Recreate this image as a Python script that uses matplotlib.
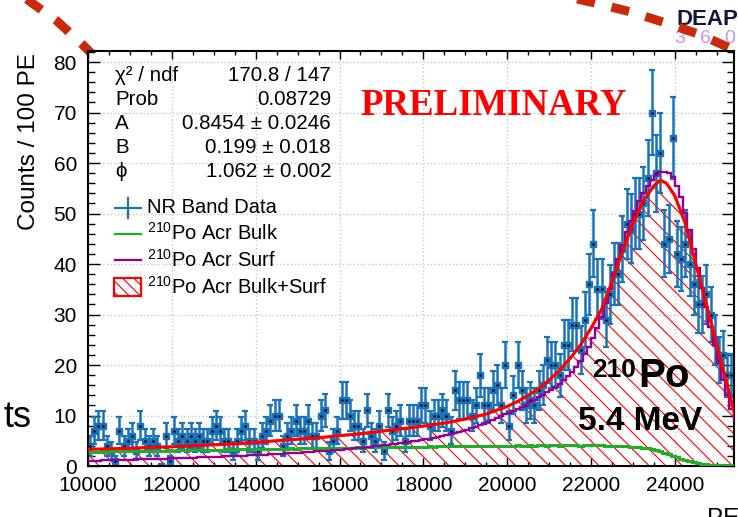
import numpy as np
import matplotlib
matplotlib.use('Agg')
import matplotlib.pyplot as plt
from matplotlib.lines import Line2D
from matplotlib.patches import Rectangle

plt.rcParams['font.family'] = ['Liberation Sans', 'DejaVu Sans']
plt.rcParams['mathtext.fontset'] = 'custom'
plt.rcParams['mathtext.rm'] = 'Liberation Sans'
plt.rcParams['mathtext.it'] = 'Liberation Sans:italic'
plt.rcParams['mathtext.bf'] = 'Liberation Sans:bold'
plt.rcParams['hatch.linewidth'] = 0.8

# Histograma de datos NR (bins de 100 PE desde 10000)
bin_lo = 10000
bin_w = 100
counts = [4, 7, 8, 8, 4, 3, 1, 7, 4, 5,
          6, 3, 8, 5, 4, 5, 4, 0, 6, 1,
          7, 5, 6, 5, 6, 5, 6, 5, 5, 7,
          8, 7, 5, 5, 3, 5, 7, 8, 5, 5,
          3, 6, 7, 9, 10, 10, 4, 6, 7, 9,
          7, 7, 9, 6, 6, 10, 11, 3, 5, 7,
          13, 13, 10, 8, 8, 5, 11, 6, 5, 8,
          3, 11, 7, 8, 9, 5, 9, 9, 9, 12,
          12, 8, 10, 10, 11, 10, 7, 15, 13, 13,
          13, 10, 12, 18, 12, 12, 15, 16, 12, 20,
          8, 14, 20, 15, 12, 13, 12, 15, 16, 21,
          20, 20, 18, 24, 24, 28, 28, 23, 29, 36,
          44, 35, 35, 29, 34, 38, 38, 43, 48, 47,
          50, 50, 52, 57, 70, 58, 62, 44, 45, 65,
          42, 41, 44, 40, 36, 32, 32, 34, 30, 25,
          21, 22, 18, 18, 15]

# Plantillas 210Po (mismos bins)
bulk = [2.8, 2.8, 2.8, 2.9, 2.8, 2.9, 2.9, 2.9, 2.9, 2.9,
        2.9, 3.0, 2.9, 3.0, 3.0, 3.0, 3.0, 3.0, 3.0, 3.1,
        3.0, 3.1, 3.1, 3.1, 3.1, 3.1, 3.2, 3.1, 3.2, 3.2,
        3.2, 3.2, 3.2, 3.3, 3.2, 3.3, 3.3, 3.3, 3.3, 3.3,
        3.3, 3.4, 3.3, 3.4, 3.4, 3.4, 3.4, 3.4, 3.5, 3.4,
        3.5, 3.5, 3.5, 3.5, 3.5, 3.5, 3.6, 3.5, 3.6, 3.6,
        3.6, 3.6, 3.6, 3.6, 3.7, 3.6, 3.7, 3.7, 3.7, 3.7,
        3.7, 3.7, 3.8, 3.7, 3.8, 3.8, 3.8, 3.8, 3.8, 3.8,
        3.8, 3.9, 3.8, 3.9, 3.9, 3.9, 3.9, 3.9, 3.9, 3.9,
        3.9, 4.0, 3.9, 4.0, 4.0, 4.0, 4.0, 4.0, 3.9, 4.0,
        4.0, 4.0, 4.1, 4.0, 4.0, 4.1, 4.0, 4.1, 4.1, 4.0,
        4.1, 4.1, 4.0, 4.1, 4.1, 4.1, 4.1, 4.0, 4.1, 4.1,
        4.1, 4.1, 4.1, 4.0, 4.0, 4.0, 4.0, 3.9, 3.9, 3.8,
        3.8, 3.7, 3.6, 3.5, 3.3, 3.1, 2.9, 2.6, 2.3, 2.0,
        1.7, 1.4, 1.2, 1.0, 0.8, 0.6, 0.4, 0.3, 0.2, 0.2,
        0.1, 0.1, 0.1, 0.1, 0.1]

surf = [1.0, 1.0, 1.0, 1.1, 1.1, 1.1, 1.1, 1.2, 1.2, 1.2,
        1.2, 1.3, 1.3, 1.3, 1.3, 1.4, 1.4, 1.4, 1.4, 1.5,
        1.5, 1.5, 1.5, 1.6, 1.6, 1.6, 1.7, 1.7, 1.7, 1.8,
        1.8, 1.8, 1.9, 1.9, 1.9, 2.0, 2.0, 2.0, 2.1, 2.1,
        2.1, 2.2, 2.2, 2.3, 2.3, 2.4, 2.4, 2.5, 2.5, 2.6,
        2.6, 2.7, 2.7, 2.8, 2.9, 2.9, 3.0, 3.0, 3.1, 3.2,
        3.2, 3.3, 3.4, 3.5, 3.6, 3.6, 3.7, 3.8, 3.9, 4.0,
        4.1, 4.2, 4.3, 4.4, 4.5, 4.6, 4.7, 4.9, 5.0, 5.1,
        5.3, 5.4, 5.6, 5.8, 6.0, 6.1, 6.3, 6.5, 6.8, 7.0,
        7.2, 7.5, 7.8, 8.1, 8.4, 8.8, 9.1, 9.5, 9.9, 10.3,
        10.5, 10.9, 11.3, 11.7, 12.1, 12.6, 13.1, 13.6, 14.1, 14.6,
        15.1, 15.7, 16.3, 17.0, 17.8, 18.7, 19.7, 20.8, 22.1, 23.6,
        25.3, 27.3, 29.6, 32.2, 35.0, 38.0, 41.0, 43.8, 46.3, 48.6,
        50.6, 52.4, 54.0, 55.4, 56.6, 57.6, 58.2, 58.3, 58.0, 57.2,
        55.5, 53.2, 50.2, 46.8, 43.0, 39.2, 35.2, 31.4, 27.6, 24.0,
        20.4, 17.0, 14.0, 11.2, 9.0]

# Función de ajuste (Bulk+Surf)
fit_pe = [10000, 10500, 11000, 11500, 12000, 12500, 13000, 13500, 14000, 14500,
          15000, 15500, 16000, 16500, 17000, 17500, 18000, 18500, 19000, 19500,
          20000, 20250, 20500, 20750, 21000, 21250, 21500, 21750, 22000, 22250,
          22500, 22750, 23000, 23250, 23500, 23650, 23800, 24000, 24250, 24500,
          24750, 25000, 25250, 25450]
fit_val = [3.3, 3.4, 3.5, 3.7, 3.8, 4.0, 4.2, 4.4, 4.7, 5.0,
           5.3, 5.6, 6.0, 6.4, 6.9, 7.4, 7.9, 8.5, 9.3, 10.3,
           11.8, 12.8, 14.0, 15.3, 17.0, 19.0, 21.3, 24.0, 27.3, 31.0,
           36.5, 42.5, 48.0, 52.5, 55.5, 56.6, 56.0, 53.5, 48.0, 40.0,
           32.0, 24.0, 16.0, 9.5]

# Resultados del ajuste
chi2, ndf, prob = 170.8, 147, 0.08729
par_names = ['A', 'B', 'ϕ']
par_vals = ['0.8454', '0.199', '1.062']
par_errs = ['0.0246', '0.018', '0.002']

blue = '#1a72b8'
green = '#1fae2a'
purple = '#930093'

W, H = 738, 517
fig = plt.figure(figsize=(W / 100, H / 100), dpi=100)
ax = fig.add_axes([88 / W, (H - 466) / H, 646 / W, 415 / H])


def fx(x):
    return x / W


def fy(y):
    return 1 - y / H


edges = bin_lo + bin_w * np.arange(len(counts) + 1)
centers = edges[:-1] + bin_w / 2
counts = np.array(counts, dtype=float)

ax.fill_between(fit_pe, 0, fit_val, facecolor='none', edgecolor='red',
                hatch='\\\\', linewidth=0, zorder=1)
ax.errorbar(centers, counts, yerr=np.sqrt(counts), fmt='s', ms=4.0,
            mfc=blue, mec=blue, ecolor=blue, elinewidth=1.8,
            capsize=2.3, capthick=1.6, zorder=2)
ax.plot(centers, counts, ls='none', marker='.', ms=1.6, color='k', zorder=2.1)
ax.stairs(bulk, edges, baseline=None, color=green, lw=2.2, zorder=3)
ax.stairs(surf, edges, baseline=None, color=purple, lw=1.7, zorder=3)
ax.plot(fit_pe, fit_val, color='red', lw=2.3, zorder=4)

ax.set_xlim(10000, 25410)
ax.set_ylim(0, 82.2)
ax.set_xticks(np.arange(10000, 25001, 2000))
ax.set_xticks(np.arange(10000, 25500, 500), minor=True)
ax.set_yticks(np.arange(0, 81, 10))
ax.set_yticks(np.arange(0, 83, 2), minor=True)
ax.tick_params(which='both', direction='in', top=True, right=True,
               labelsize=15, width=1, color='k')
ax.tick_params(axis='y', which='major', length=8.5, pad=8)
ax.tick_params(axis='y', which='minor', length=5)
ax.tick_params(axis='x', which='major', length=6, pad=7)
ax.tick_params(axis='x', which='minor', length=3)
ax.grid(True, which='major', ls=':', color='#c8c8c8', lw=1)
ax.set_axisbelow(True)
for s in ax.spines.values():
    s.set_linewidth(1.5)

# Títulos de ejes
fig.text(fx(35), fy(53), 'Counts / 100 PE', rotation=90, rotation_mode='anchor',
         ha='right', va='baseline', fontsize=17.5)
fig.text(fx(707), fy(525), 'PE', ha='left', va='baseline', fontsize=17.5)
fig.text(fx(31), fy(427), 'ts', ha='right', va='baseline', fontsize=26)

# Caja de estadísticas
stats = [('χ² / ndf', f'{chi2} / {ndf}'), ('Prob', f'{prob}')]
stats += [(n, f'{v} ± {e}') for n, v, e in zip(par_names, par_vals, par_errs)]
for i, (lab, val) in enumerate(stats):
    yb = 81 + 24 * i
    fig.text(fx(115), fy(yb), lab, ha='left', va='baseline', fontsize=14.8)
    fig.text(fx(331), fy(yb), val, ha='right', va='baseline', fontsize=14.8)

# Leyenda
def axc(x, y):
    return (x - 88) / 646, (466 - y) / 415


ax.add_line(Line2D(*zip(axc(115, 207.7), axc(141, 207.7)), color=blue, lw=1.6,
                   transform=ax.transAxes, zorder=6))
ax.add_line(Line2D(*zip(axc(128, 198), axc(128, 218)), color=blue, lw=1.6,
                   transform=ax.transAxes, zorder=6))
ax.add_line(Line2D(*zip(axc(115, 234), axc(141, 234)), color=green, lw=1.6,
                   transform=ax.transAxes, zorder=6))
ax.add_line(Line2D(*zip(axc(115, 260), axc(141, 260)), color=purple, lw=1.6,
                   transform=ax.transAxes, zorder=6))
x0, y0 = axc(114, 296)
x1, y1 = axc(141, 278)
ax.add_patch(Rectangle((x0, y0), x1 - x0, y1 - y0, transform=ax.transAxes,
                       facecolor='white', edgecolor='red', lw=1.6,
                       hatch='\\\\\\', zorder=6))
leg_labels = ['NR Band Data', r'$^{210}$Po Acr Bulk', r'$^{210}$Po Acr Surf',
              r'$^{210}$Po Acr Bulk+Surf']
for lab, yb in zip(leg_labels, [213.3, 240, 266.7, 293.3]):
    fig.text(fx(146.7), fy(yb), lab, ha='left', va='baseline', fontsize=14.5)

# Anotaciones
fig.text(fx(360), fy(115), 'PRELIMINARY', family='Liberation Serif',
         fontweight='bold', color='red', fontsize=26.5, ha='left', va='baseline')
fig.text(fx(592), fy(377), '210', fontweight='bold', fontsize=19,
         ha='left', va='baseline')
fig.text(fx(638), fy(387), 'Po', fontweight='bold', fontsize=29,
         ha='left', va='baseline')
fig.text(fx(578), fy(430), '5.4 MeV', fontweight='bold', fontsize=24,
         ha='left', va='baseline')

# Logo
fig.text(fx(677), fy(25), 'DEAP', fontweight='bold', fontsize=16,
         color='#15153a', ha='left', va='baseline', zorder=-3)
for k, d in enumerate('3600'):
    fig.text(fx(680 + 25 * k), fy(43), d, fontsize=14, color='#cc8ff0',
             ha='center', va='baseline', zorder=-3)

# Arcos discontinuos de la diapositiva
arc_l = [(18, -8), (32, 3), (57, 21), (83, 45), (98, 60)]
arc_r = [(555, -6), (595, 3), (631, 12), (666, 23), (701, 35), (745, 55)]
for arc in (arc_l, arc_r):
    xs = [fx(p[0]) for p in arc]
    ys = [fy(p[1]) for p in arc]
    fig.add_artist(Line2D(xs, ys, color='#c92a0c', lw=6.5,
                          linestyle=(0, (2.0, 1.9)), solid_capstyle='butt',
                          dash_capstyle='butt', zorder=-1))

fig.savefig('out.png', dpi=100)
